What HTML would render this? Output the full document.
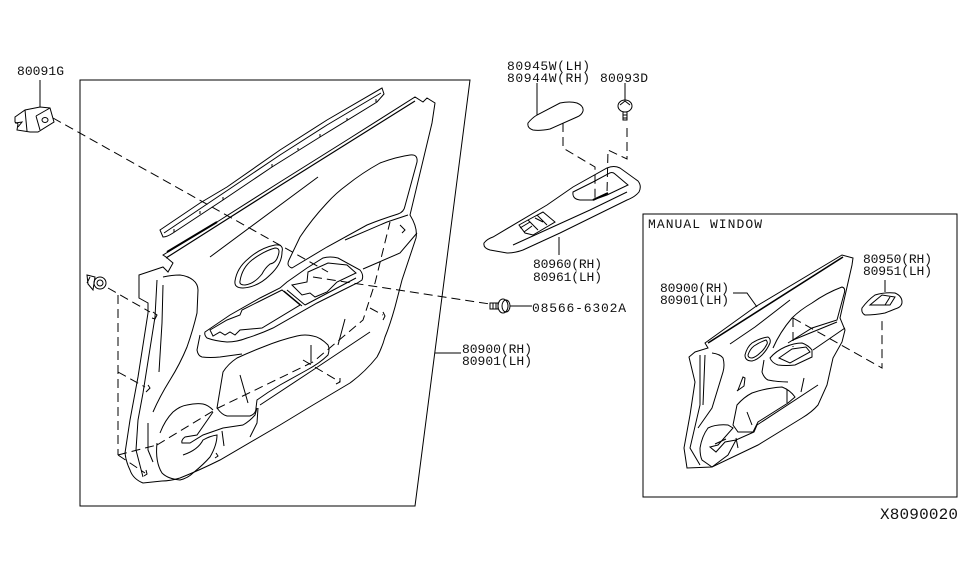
<!DOCTYPE html>
<html><head><meta charset="utf-8"><style>
html,body{margin:0;padding:0;background:#fff}
svg{display:block}
text{font-family:"Liberation Mono",monospace;font-size:13px;fill:#111}
.l{fill:none;stroke:#000;stroke-width:1}
.d{fill:none;stroke:#000;stroke-width:1;stroke-dasharray:9 5}
</style></head><body>
<svg width="975" height="566" viewBox="0 0 975 566" xmlns="http://www.w3.org/2000/svg">
<g class="l">
<path d="M80 80H470L415 506H80Z"/>
<path d="M643 214H957V497H643Z"/>
<path d="M40 80V107M537 83V115M625 83V100M559 237V255M510 306H532M435 353H461M885 280V292M733 293H747L757 307"/>
<!-- strip -->
<path d="M160 230L200 203L227 187L280 150L327 120L382 88L384 94L377 102L320 137L272 167L223 200L173 233Q167 237 163 237Z"/>
<path d="M164 233L225 192L280 155L327 125L381 93"/>
<path d="M174 232V229M200 214V211M223 200V197M272 167V164M298 150V148M320 137V134M347 120V118M376 102V99"/>
<!-- main panel outline -->
<path d="M163 255L217 222L280 182L347 140L415 97L423 102L427 98L435 103L432 123L410 215Q418 228 416 238L402 280L395 307Q390 325 385 337Q382 348 377 357Q365 372 350 383L313 405L280 425L220 460Q200 470 180 478Q170 481 162 481L143 483Q133 479 130 470Q126 462 125 453L130 420L138 377L148 313L148 303L139 298L139 275L163 267L168 272L173 263L166 257Z"/>
<path d="M166 258L218 225L281 185L348 143L415 101" stroke-width="1.2"/>
<path d="M167 252L217 222" stroke-width="2"/>
<path d="M292 268Q286 266 289 260L300 237Q312 219 327 203Q336 193 347 185Q362 173 380 163Q396 157 410 155Q418 154 417 162L405 206Q404 212 398 214Q382 219 367 225L327 247Z"/>
<path d="M210 257L318 177M345 240L387 222L408 215M363 269L400 253L417 233"/>
<path d="M235 281Q237 268 248 259Q260 248 275 245Q284 244 282 252Q282 264 270 275Q258 287 243 288Q234 288 235 281Z"/>
<path d="M240 281Q242 268 252 260Q264 251 275 248Q281 248 278 256Q276 263 270 264Q265 268 262 274Q254 284 245 285Q239 285 240 281Z"/>
<!-- armrest -->
<path d="M205 332L230 315L260 298L280 288L287 282L307 268L323 258Q330 256 338 258L360 270Q364 275 362 280Q358 283 353 285L317 303L273 328Q260 334 247 338Q237 342 227 342Q215 341 207 338Q204 335 205 332Z"/>
<path d="M210 330L227 320L240 315L242 310L258 302L282 290L300 305L262 328L240 330L235 335L230 332L225 335L220 332L213 336Z"/>
<path d="M292 285L307 282L308 272L328 263L347 265L356 273L337 282L327 292L315 297L310 293L302 295Z"/>
<path d="M287 290L305 305M284 291L302 306M305 305L356 278"/>
<!-- left interior -->
<path d="M157 280L155 317L143 393L138 420L136 450L143 477M163 285L162 323L159 372"/>
<path d="M163 277Q172 275 180 275Q188 276 193 280Q198 284 198 290L197 313Q193 330 187 347Q180 364 170 380Q160 396 153 412"/>
<path d="M148 423V450L153 462"/>
<path d="M157 443Q155 462 162 473Q168 479 180 480Q188 478 193 473Q204 464 210 457Q217 445 217 435Q210 436 203 440Q198 450 183 455"/>
<path d="M160 433Q165 420 173 412Q180 406 187 405Q196 403 203 404Q208 405 213 410"/>
<path d="M213 412L197 435L185 437Q181 440 182 443L190 443L203 435L223 428L243 425Q250 421 255 415L257 408"/>
<path d="M222 431L224 446M258 408L257 423L250 437"/>
<path d="M217 408Q222 415 227 416H250Q256 414 256 408L257 400Q268 392 280 385L307 370Q320 363 328 355Q330 349 328 345Q320 337 313 336Q305 334 297 336Q280 340 263 347Q250 352 237 358Q228 364 223 372Z"/>
<path d="M260 405L313 370L370 332M240 375L248 403M311 345V362M345 319L338 345"/>
<path d="M200 335L197 350Q198 356 202 357Q210 358 220 357L242 354"/>
<!-- clips -->
<path d="M153 312L157 315L155 319L152 318M148 385L150 388L146 392M146 470L147 474L144 476M216 453L218 456L215 458M383 312L385 316L383 320M340 378L340 382L336 384M400 225L405 230L402 233"/>
<!-- 80091G clip -->
<path d="M15 117L25 110L40 107L50 108L54 122L38 132L30 132L17 130L18 124L15 122Z"/>
<path d="M25 110L27 131M36 116L40 130M36 116L50 108"/>
<ellipse cx="45" cy="120" rx="3" ry="2.5"/>
<path d="M15 123L22 122L18 127"/>
<!-- left screw -->
<circle cx="100" cy="283" r="6"/><circle cx="100" cy="283" r="3"/>
<path d="M87 275L95 277L93 290L88 284ZM90 277L87 283"/>
<!-- 80944 cover -->
<path d="M528 123Q532 118 537 115L560 103Q570 101 577 103Q584 106 583 111Q582 115 577 117L550 129Q540 131 533 130Q527 128 528 123Z"/>
<!-- 80093D screw -->
<ellipse cx="625" cy="106" rx="7" ry="6"/>
<path d="M620 105L625 101L630 105M623 112H627V120H623ZM623 115H627M623 118H627"/>
<!-- switch panel -->
<path d="M484 243Q487 239 493 237L547 205L573 187L607 168Q614 165 620 168L638 181Q642 186 639 192Q635 197 627 200L560 233L523 250Q515 253 507 253L490 250Q483 248 484 243Z"/>
<path d="M573 192L593 182L608 174Q612 171 615 174L628 185L607 195L593 200L580 200Q572 199 573 192Z"/>
<path d="M513 245L590 210L627 192"/>
<path d="M593 200L608 193" stroke-width="2"/>
<path d="M519 225L528 220L543 212L555 222L533 235L525 233ZM528 220L538 230M537 215L547 225M520 228L530 222M524 232L532 226M535 218L543 222"/>
<!-- 08566 screw -->
<path d="M490 303H498V309H490ZM493 303V309M496 303V309"/>
<ellipse cx="503" cy="306" rx="5" ry="7"/><ellipse cx="506" cy="306" rx="4" ry="6"/>
<!-- inset panel -->
<path d="M705 343L755 307L842 255L853 258L852 265L840 318L845 330L842 342L833 358L827 385L818 405Q812 412 802 418L758 445L712 467L687 468L684 448L690 415L695 382L689 357L695 352L708 348Z"/>
<path d="M708 343L843 257" stroke-width="1.6"/>
<path d="M773 348Q780 332 792 318Q800 310 812 303Q826 293 842 287Q846 288 844 294L837 320L812 328L788 343"/>
<path d="M730 344L755 327L790 300"/>
<path d="M745 355Q747 347 752 343Q760 338 768 337Q771 339 770 343Q767 350 762 355Q757 360 752 361Q745 361 745 355Z"/>
<path d="M748 355Q750 349 754 346Q760 342 766 340Q768 342 767 344Q764 350 760 353Q756 357 752 358Q748 358 748 355Z"/>
<path d="M770 358Q776 351 785 347Q794 343 802 343Q808 345 812 350L812 357L795 365Q786 366 778 365Q772 363 770 358Z"/>
<path d="M779 358L792 349L806 347L810 352L790 363Z"/>
<path d="M813 350L845 328M793 340L837 322"/>
<path d="M764 360L762 372Q764 378 768 380Q778 382 788 382"/>
<path d="M738 390L743 377L745 378L744 386L737 391Z"/>
<path d="M733 425L737 405Q744 397 752 393Q766 388 782 387Q790 390 795 397L788 403L758 422L753 432L738 432Z"/>
<path d="M757 425L818 385M747 412L752 425M787 390V403M804 378L801 392"/>
<path d="M700 355V405L690 448L700 465M705 355L703 405"/>
<path d="M712 353Q720 354 723 358Q725 365 723 372L712 408L698 428"/>
<path d="M700 448Q702 436 708 428Q716 424 728 425L733 428L718 445L710 447L716 452L725 442L736 440L754 432L757 425M700 448Q700 456 702 460L712 467"/>
<path d="M736 440L728 455L712 467M736 438L738 448M715 444L726 439"/>
<!-- 80950 -->
<path d="M862 308Q868 300 875 295Q885 292 895 293Q902 296 902 302Q902 307 895 309L885 313Q875 315 865 315Q861 313 862 308Z"/>
<path d="M870 305L882 295L895 297L890 305ZM885 305L890 297"/>
</g>
<g class="d">
<path d="M53 118L328 272"/>
<path d="M313 277L490 304"/>
<path d="M157 445L218 408L313 362L363 320L375 283L390 222"/>
<path d="M370 308L383 315M303 360L340 382"/>
<path d="M118 295V455M108 288L150 312M118 372L145 387M118 455L145 473M118 455L157 445"/>
<path d="M563 123V148L595 167V198"/>
<path d="M627 128V159L608 150L607 193"/>
<path d="M793 318L882 368V317M793 318V347"/>
</g>
<text x="17" y="75" textLength="47">80091G</text>
<text x="507" y="70" textLength="83">80945W(LH)</text>
<text x="507" y="82" textLength="83">80944W(RH)</text>
<text x="600" y="82" textLength="48">80093D</text>
<text x="533" y="268" textLength="69">80960(RH)</text>
<text x="533" y="281" textLength="69">80961(LH)</text>
<text x="532" y="312" textLength="94">08566-6302A</text>
<text x="462" y="353" textLength="70">80900(RH)</text>
<text x="462" y="365" textLength="70">80901(LH)</text>
<text x="648" y="228" textLength="114">MANUAL WINDOW</text>
<text x="863" y="263" textLength="69">80950(RH)</text>
<text x="863" y="275" textLength="69">80951(LH)</text>
<text x="660" y="292" textLength="69">80900(RH)</text>
<text x="660" y="304" textLength="69">80901(LH)</text>
<text x="880" y="519" textLength="78" style="font-size:16px">X8090020</text>
</svg>
</body></html>
